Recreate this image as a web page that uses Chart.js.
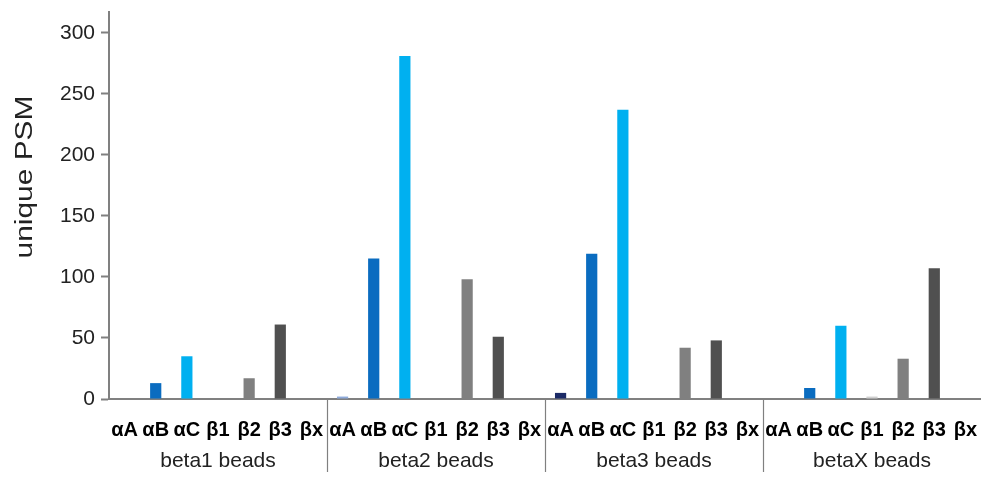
<!DOCTYPE html>
<html>
<head>
<meta charset="utf-8">
<script src="https://cdn.jsdelivr.net/npm/chart.js@4/dist/chart.umd.min.js"></script>
<style>
  html, body { margin: 0; padding: 0; background: #fff; }
  #wrap { width: 981px; height: 478px; }
</style>
</head>
<body>
<div id="wrap"><canvas id="psm"></canvas></div>
<script>
const categories = ['αA', 'αB', 'αC', 'β1', 'β2', 'β3', 'βx'];
const groups = ['beta1 beads', 'beta2 beads', 'beta3 beads', 'betaX beads'];

const beta1 = [0, 13, 35, 0, 17, 61, 0];
const beta2 = [2, 115, 281, 0, 98, 51, 0];
const beta3 = [5, 119, 237, 0, 42, 48, 0];
const betaX = [0, 9, 60, 2, 33, 107, 0];

const yTicks = [0, 50, 100, 150, 200, 250, 300];

// colours per category, αA shade changes from group to group
const catColors = ['#1b2a66', '#0a6cc0', '#00b0f0', '#d0d0d0', '#808080', '#505050', '#333333'];
const alphaAColors = ['#1b2a66', '#8eaadb', '#1b2a66', '#1b2a66'];

const groupValues = [beta1, beta2, beta3, betaX];
const labels = [];
const values = [];
const colors = [];
groupValues.forEach((vals, g) => {
  vals.forEach((v, i) => {
    labels.push(categories[i]);
    values.push(v);
    colors.push(i === 0 ? alphaAColors[g] : catColors[i]);
  });
});

const axisGrey = '#808080';
const fontFam = '"Liberation Sans", Arial, sans-serif';

const groupPlugin = {
  id: 'groups',
  afterDraw(chart) {
    const c = chart.ctx;
    const x = chart.scales.x;
    const n = categories.length;
    c.save();
    c.fillStyle = '#222';
    c.font = '21px ' + fontFam;
    c.textAlign = 'center';
    c.textBaseline = 'middle';
    groups.forEach((name, g) => {
      const a = x.getPixelForValue(g * n);
      const b = x.getPixelForValue(g * n + n - 1);
      c.fillText(name, (a + b) / 2, 461);
      if (g > 0) {
        const prev = x.getPixelForValue(g * n - 1);
        const sx = Math.round((prev + a) / 2) + 0.5;
        c.strokeStyle = axisGrey;
        c.lineWidth = 1.2;
        c.beginPath();
        c.moveTo(sx, 400);
        c.lineTo(sx, 472);
        c.stroke();
      }
    });
    // y axis title
    c.translate(26, 177);
    c.rotate(-Math.PI / 2);
    c.scale(1.15, 0.9);
    c.font = '26px ' + fontFam;
    c.fillText('unique PSM', 0, 0);
    c.restore();
  }
};

new Chart(document.getElementById('psm'), {
  type: 'bar',
  data: {
    labels: labels,
    datasets: [{
      data: values,
      backgroundColor: colors,
      barPercentage: 0.36,
      categoryPercentage: 1
    }]
  },
  options: {
    responsive: true,
    maintainAspectRatio: false,
    animation: false,
    layout: { padding: { top: 12, right: 0, left: 0, bottom: 0 } },
    plugins: {
      legend: { display: false },
      tooltip: { enabled: false }
    },
    scales: {
      x: {
        grid: { display: false },
        border: { color: axisGrey, width: 2 },
        ticks: {
          color: '#000',
          font: { family: fontFam, size: 20, weight: 'bold' },
          maxRotation: 0,
          autoSkip: false,
          padding: 11
        },
        afterFit(scale) {
          scale.height = 79;
          scale.paddingLeft = 0;
          scale.paddingRight = 0;
        }
      },
      y: {
        min: 0,
        max: 317,
        grid: { drawOnChartArea: false, drawTicks: true, tickLength: 8, tickColor: axisGrey, tickWidth: 2 },
        border: { color: axisGrey, width: 2 },
        ticks: {
          color: '#222',
          font: { family: fontFam, size: 21 },
          padding: 6
        },
        afterBuildTicks(scale) {
          scale.ticks = yTicks.map(v => ({ value: v }));
        },
        afterFit(scale) {
          scale.width = 109;
          scale.paddingTop = 0;
          scale.paddingBottom = 0;
        }
      }
    }
  },
  plugins: [groupPlugin]
});
</script>
</body>
</html>
